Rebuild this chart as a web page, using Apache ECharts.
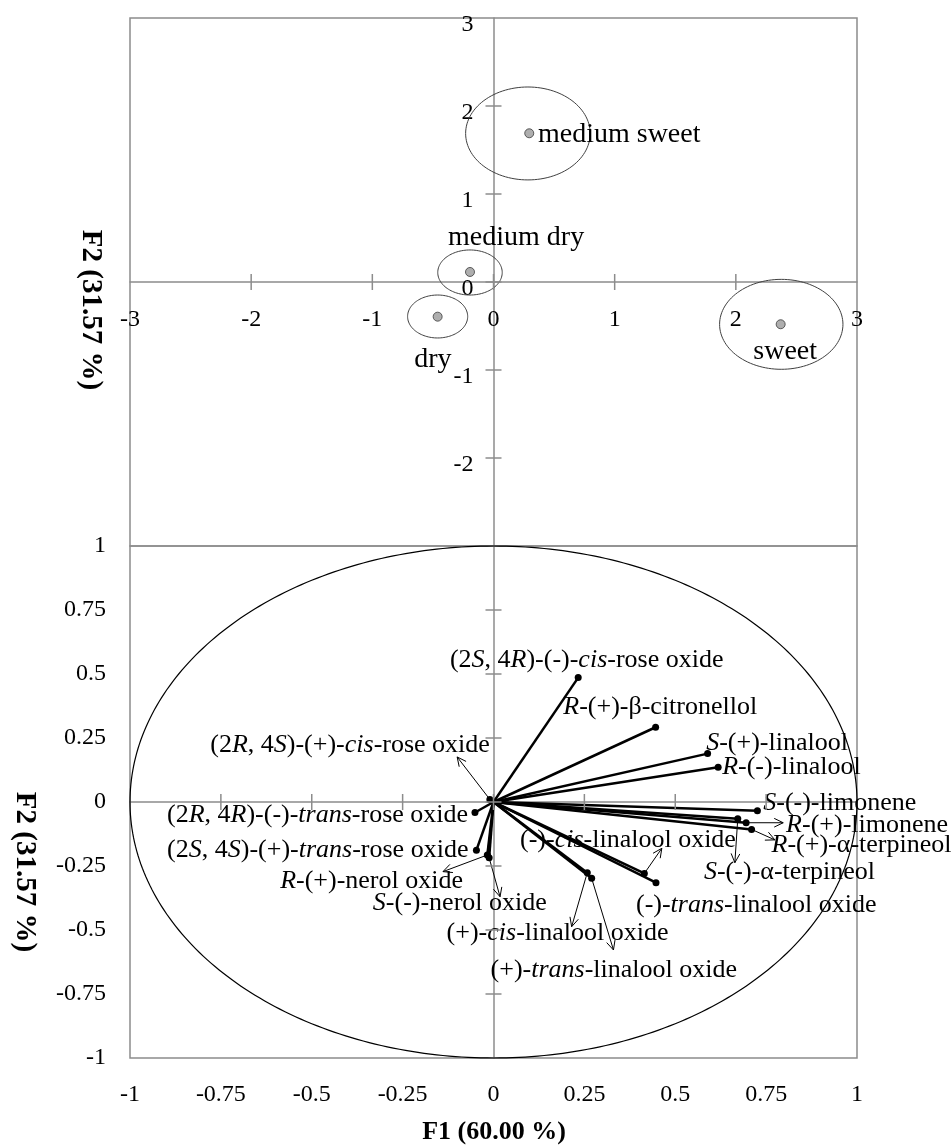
<!DOCTYPE html>
<html><head><meta charset="utf-8">
<script src="https://cdn.jsdelivr.net/npm/echarts@6/dist/echarts.min.js"></script>
<style>html,body{margin:0;padding:0;background:#fff}#c{width:952px;height:1145px}</style>
</head><body><div id="c"></div>
<script>
const FONT = '"Liberation Serif", "Times New Roman", serif';

// ---------- Scores plot (top) ----------
const scoreTicks = [-3, -2, -1, 0, 1, 2, 3];
const groups = ['medium sweet', 'medium dry', 'dry', 'sweet'];
const groupF1 = [0.295, -0.194, -0.461, 2.37];
const groupF2 = [1.69, 0.114, -0.394, -0.48];
const ellipseCX = [0.284, -0.194, -0.461, 2.375];
const ellipseCY = [1.688, 0.108, -0.392, -0.481];
const ellipseRX = [0.514, 0.266, 0.248, 0.509];
const ellipseRY = [0.528, 0.256, 0.244, 0.511];
// label anchor (left-middle) in data units
const groupLabelX = [0.367, -0.375, -0.654, 2.144];
const groupLabelY = [1.67, 0.5, -0.886, -0.792];

// ---------- Loadings plot (bottom) ----------
const loadingTicks = [-1, -0.75, -0.5, -0.25, 0, 0.25, 0.5, 0.75, 1];
const variables = [
  '(2*S*, 4*R*)-(-)-*cis*-rose oxide',
  '*R*-(+)-β-citronellol',
  '*S*-(+)-linalool',
  '*R*-(-)-linalool',
  '*S*-(-)-limonene',
  '*S*-(-)-α-terpineol',
  '*R*-(+)-limonene',
  '*R*-(+)-α-terpineol',
  '(-)-*cis*-linalool oxide',
  '(-)-*trans*-linalool oxide',
  '(+)-*cis*-linalool oxide',
  '(+)-*trans*-linalool oxide',
  '*S*-(-)-nerol oxide',
  '*R*-(+)-nerol oxide',
  '(2*S*, 4*S*)-(+)-*trans*-rose oxide',
  '(2*R*, 4*R*)-(-)-*trans*-rose oxide',
  '(2*R*, 4*S*)-(+)-*cis*-rose oxide'
];
const loadF1 = [0.233, 0.446, 0.589, 0.618, 0.726, 0.672, 0.695, 0.710, 0.415, 0.447, 0.258, 0.270, -0.012, -0.017, -0.047, -0.051, -0.010];
const loadF2 = [0.486, 0.292, 0.189, 0.136, -0.034, -0.065, -0.081, -0.107, -0.279, -0.315, -0.276, -0.298, -0.218, -0.207, -0.188, -0.041, 0.010];
// label anchors (data units) and alignment
const varLabelX = [-0.120, 0.192, 0.585, 0.629, 0.742, 0.579, 0.805, 0.765, 0.073, 0.392, -0.129, -0.008, -0.332, -0.587, -0.069, -0.070, -0.010];
const varLabelY = [0.555, 0.372, 0.229, 0.138, -0.005, -0.276, -0.090, -0.168, -0.148, -0.402, -0.513, -0.656, -0.396, -0.311, -0.188, -0.051, 0.223];
const varLabelAlign = ['left','left','left','left','left','left','left','left','left','left','left','left','left','left','right','right','right'];
// leader arrow end points (data units), null = no leader
const leaderEndX = [null, null, null, null, null, 0.664, 0.797, 0.774, 0.463, null, 0.215, 0.330, 0.018, -0.139, null, null, -0.100];
const leaderEndY = [null, null, null, null, null, -0.237, -0.081, -0.148, -0.181, null, -0.487, -0.578, -0.370, -0.272, null, null, 0.176];

function toRich(s) { return s.replace(/\*([^*]+)\*/g, '{i|$1}'); }

const GRAY = '#8c8c8c';
const lineStyle = { color: GRAY, width: 1.5 };
const tickFont = { fontSize: 24, fontFamily: FONT, color: '#000' };

// layout of the two plot areas (pixels)
const G0 = { left: 130, top: 18, width: 727, height: 528 };
const G1 = { left: 130, top: 546, width: 727, height: 512 };

function valAxis(ticks, grid, extra) {
  const base = {
    type: 'value', gridIndex: grid,
    min: ticks[0], max: ticks[ticks.length - 1], interval: ticks[1] - ticks[0],
    splitLine: { show: false }, axisTick: { show: false }
  };
  return Object.assign(base, extra);
}

const xAxes = [
  valAxis(scoreTicks, 0, { axisLine: { show: true, onZero: true, lineStyle }, axisLabel: { show: false } }),
  valAxis(scoreTicks, 0, { position: 'bottom', offset: -G0.height / 2, axisLine: { show: false, onZero: false }, axisLabel: Object.assign({ margin: 26 }, tickFont) }),
  valAxis(loadingTicks, 1, { axisLine: { show: true, onZero: true, lineStyle }, axisLabel: { show: false } }),
  valAxis(loadingTicks, 1, { position: 'bottom', axisLine: { show: false, onZero: false }, axisLabel: Object.assign({ margin: 25 }, tickFont) })
];
const yAxes = [
  valAxis(scoreTicks, 0, { axisLine: { show: true, onZero: true, lineStyle }, axisLabel: { show: false } }),
  valAxis(scoreTicks, 0, {
    position: 'left', offset: -G0.width / 2, axisLine: { show: false, onZero: false },
    axisLabel: Object.assign({
      margin: 20, showMinLabel: false,
      formatter: v => '{a|' + v + '}',
      rich: { a: { fontSize: 24, fontFamily: FONT, color: '#000', padding: [14, 0, 0, 0] } }
    }, tickFont)
  }),
  valAxis(loadingTicks, 1, { axisLine: { show: true, onZero: true, lineStyle }, axisLabel: { show: false } }),
  valAxis(loadingTicks, 1, { position: 'left', axisLine: { show: false, onZero: false }, axisLabel: Object.assign({ margin: 24 }, tickFont) })
];

// crossing tick marks drawn on the zero axes
function tickSeries(ticks, xi, yi, half) {
  const data = [];
  ticks.forEach(v => { data.push([v, 0]); data.push([v, 1]); });
  return {
    type: 'custom', xAxisIndex: xi, yAxisIndex: yi, silent: true, clip: false, z: 3,
    data: data,
    renderItem(params, api) {
      const v = api.value(0), dir = api.value(1);
      const p = dir === 0 ? api.coord([v, 0]) : api.coord([0, v]);
      const shape = dir === 0
        ? { x1: p[0], y1: p[1] - half, x2: p[0], y2: p[1] + half }
        : { x1: p[0] - half, y1: p[1], x2: p[0] + half, y2: p[1] };
      return { type: 'line', shape, style: { stroke: GRAY, lineWidth: 1.5 } };
    }
  };
}

function arrowGroup(p0, p1) {
  const ang = Math.atan2(p1[1] - p0[1], p1[0] - p0[0]);
  const L = 10, a = 0.45;
  const h1 = [p1[0] - L * Math.cos(ang - a), p1[1] - L * Math.sin(ang - a)];
  const h2 = [p1[0] - L * Math.cos(ang + a), p1[1] - L * Math.sin(ang + a)];
  const st = { stroke: '#000', lineWidth: 1, fill: null };
  return {
    type: 'group', children: [
      { type: 'line', shape: { x1: p0[0], y1: p0[1], x2: p1[0], y2: p1[1] }, style: st },
      { type: 'polyline', shape: { points: [h1, p1, h2] }, style: st }
    ]
  };
}

const series = [
  tickSeries(scoreTicks.slice(1, -1), 0, 0, 8),
  tickSeries(loadingTicks.slice(1, -1), 2, 2, 8),
  // ellipses
  {
    type: 'custom', xAxisIndex: 0, yAxisIndex: 0, silent: true, clip: false,
    data: groups.map((g, i) => [ellipseCX[i], ellipseCY[i], ellipseRX[i], ellipseRY[i]]),
    renderItem(params, api) {
      const cx = api.value(0), cy = api.value(1), rx = api.value(2), ry = api.value(3);
      const pts = [];
      for (let k = 0; k <= 120; k++) {
        const t = k / 120 * Math.PI * 2;
        pts.push(api.coord([cx + rx * Math.cos(t), cy + ry * Math.sin(t)]));
      }
      return { type: 'polygon', shape: { points: pts }, style: { stroke: '#404040', lineWidth: 1, fill: null } };
    }
  },
  // group points
  {
    type: 'scatter', xAxisIndex: 0, yAxisIndex: 0, symbol: 'circle', symbolSize: 9,
    itemStyle: { color: '#9a9a9a', borderColor: '#3c3c3c', borderWidth: 1 },
    data: groups.map((g, i) => [groupF1[i], groupF2[i]])
  },
  // group labels
  {
    type: 'custom', xAxisIndex: 0, yAxisIndex: 0, silent: true, clip: false,
    data: groups.map((g, i) => [groupLabelX[i], groupLabelY[i], i]),
    renderItem(params, api) {
      const p = api.coord([api.value(0), api.value(1)]);
      return { type: 'text', x: p[0], y: p[1], style: { text: groups[api.value(2)], fontSize: 28, fontFamily: FONT, fill: '#000', align: 'left', verticalAlign: 'middle' } };
    }
  },
  // unit circle
  {
    type: 'custom', xAxisIndex: 2, yAxisIndex: 2, silent: true, clip: false,
    data: [[0, 0, 1]],
    renderItem(params, api) {
      const r = api.value(2);
      const pts = [];
      for (let k = 0; k <= 360; k++) {
        const t = k / 360 * Math.PI * 2;
        pts.push(api.coord([r * Math.cos(t), r * Math.sin(t)]));
      }
      return { type: 'polygon', shape: { points: pts }, style: { stroke: '#000', lineWidth: 1.2, fill: null } };
    }
  },
  // variable labels
  {
    type: 'custom', xAxisIndex: 2, yAxisIndex: 2, silent: true, clip: false,
    data: variables.map((v, i) => [varLabelX[i], varLabelY[i], i]),
    renderItem(params, api) {
      const i = api.value(2);
      const p = api.coord([api.value(0), api.value(1)]);
      return {
        type: 'text', x: p[0], y: p[1],
        style: {
          text: toRich(variables[i]), fontSize: 26, fontFamily: FONT, fill: '#000',
          align: varLabelAlign[i], verticalAlign: 'middle',
          rich: { i: { fontStyle: 'italic', fontSize: 26, fontFamily: FONT, fill: '#000' } }
        }
      };
    }
  },
  // leader arrows
  {
    type: 'custom', xAxisIndex: 2, yAxisIndex: 2, silent: true, clip: false,
    data: variables.map((v, i) => [loadF1[i], loadF2[i], leaderEndX[i], leaderEndY[i]]).filter(d => d[2] !== null),
    renderItem(params, api) {
      const p0 = api.coord([api.value(0), api.value(1)]);
      const p1 = api.coord([api.value(2), api.value(3)]);
      return arrowGroup(p0, p1);
    }
  },
  // loading vectors
  {
    type: 'custom', xAxisIndex: 2, yAxisIndex: 2, silent: true, clip: false,
    data: variables.map((v, i) => [loadF1[i], loadF2[i]]),
    renderItem(params, api) {
      const o = api.coord([0, 0]);
      const p = api.coord([api.value(0), api.value(1)]);
      return {
        type: 'group', children: [
          { type: 'line', shape: { x1: o[0], y1: o[1], x2: p[0], y2: p[1] }, style: { stroke: '#000', lineWidth: 2.5 } },
          { type: 'circle', shape: { cx: p[0], cy: p[1], r: 3.5 }, style: { fill: '#000' } }
        ]
      };
    }
  }
];

const chart = echarts.init(document.getElementById('c'), null, { renderer: 'canvas' });
chart.setOption({
  backgroundColor: '#fff',
  animation: false,
  grid: [
    Object.assign({ show: true, borderColor: GRAY, borderWidth: 1.5, backgroundColor: 'transparent' }, G0),
    Object.assign({ show: true, borderColor: GRAY, borderWidth: 1.5, backgroundColor: 'transparent' }, G1)
  ],
  xAxis: xAxes,
  yAxis: yAxes,
  series: series,
  graphic: [
    { type: 'text', x: 90, y: 310, rotation: -Math.PI / 2, style: { text: 'F2 (31.57 %)', fontSize: 29, fontWeight: 'bold', fontFamily: FONT, fill: '#000', align: 'center', verticalAlign: 'middle' } },
    { type: 'text', x: 24, y: 872, rotation: -Math.PI / 2, style: { text: 'F2 (31.57 %)', fontSize: 29, fontWeight: 'bold', fontFamily: FONT, fill: '#000', align: 'center', verticalAlign: 'middle' } },
    { type: 'text', x: 494, y: 1132, style: { text: 'F1 (60.00 %)', fontSize: 26, fontWeight: 'bold', fontFamily: FONT, fill: '#000', align: 'center', verticalAlign: 'middle' } }
  ]
});
</script>
</body></html>
